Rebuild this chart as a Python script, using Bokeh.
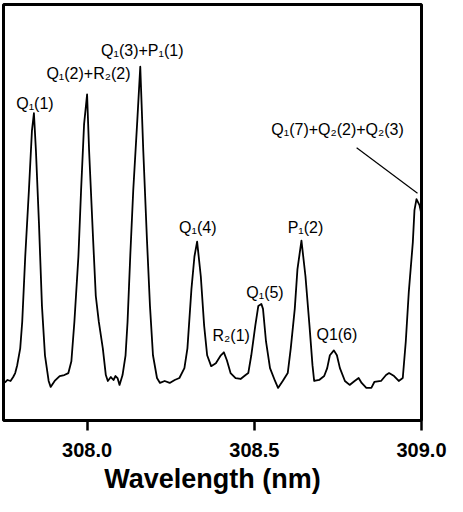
from bokeh.plotting import figure
from bokeh.models import Range1d, FixedTicker, ColumnDataSource, NumeralTickFormatter
from bokeh.core.properties import value
from bokeh.embed import file_html
from bokeh.resources import INLINE

# ---- data (wavelength in nm, intensity in arbitrary units) ----
wavelength = [
    307.750, 307.756, 307.762, 307.771, 307.779, 307.785, 307.791, 307.800, 307.806, 307.815,
    307.826, 307.835, 307.841, 307.847, 307.856, 307.865, 307.874, 307.885, 307.891, 307.903,
    307.918, 307.932, 307.944, 307.953, 307.962, 307.974, 307.982, 307.991, 308.000, 308.006,
    308.018, 308.026, 308.035, 308.047, 308.056, 308.062, 308.071, 308.079, 308.085, 308.091,
    308.097, 308.106, 308.115, 308.121, 308.129, 308.138, 308.150, 308.159, 308.168, 308.179,
    308.188, 308.197, 308.209, 308.218, 308.232, 308.247, 308.262, 308.276, 308.291, 308.300,
    308.312, 308.321, 308.329, 308.340, 308.350, 308.359, 308.371, 308.385, 308.400, 308.409,
    308.418, 308.429, 308.444, 308.459, 308.474, 308.482, 308.491, 308.503, 308.512, 308.521,
    308.526, 308.535, 308.547, 308.562, 308.571, 308.585, 308.600, 308.609, 308.621, 308.629,
    308.641, 308.653, 308.665, 308.674, 308.679, 308.694, 308.709, 308.718, 308.726, 308.738,
    308.747, 308.756, 308.771, 308.785, 308.800, 308.812, 308.821, 308.835, 308.850, 308.859,
    308.879, 308.894, 308.903, 308.918, 308.932, 308.944, 308.953, 308.962, 308.974, 308.979,
    308.985, 308.994, 308.999,
]
intensity = [
    9.03, 9.26, 9.74, 9.50, 10.45, 11.40, 13.30, 17.34, 23.75, 39.43,
    55.34, 69.60, 73.87, 64.85, 47.51, 27.55, 15.68, 9.50, 8.08, 9.50,
    10.69, 10.93, 11.40, 14.25, 23.75, 39.43, 55.34, 71.26, 78.38, 64.85,
    43.47, 29.93, 23.75, 17.34, 10.93, 9.50, 10.45, 9.74, 10.69, 10.21,
    8.55, 10.93, 15.68, 23.75, 39.43, 55.34, 71.97, 85.04, 64.85, 43.47,
    27.55, 15.68, 10.21, 9.03, 9.50, 9.03, 9.74, 10.21, 12.59, 17.34,
    31.59, 39.43, 42.99, 34.68, 22.80, 15.68, 13.06, 13.78, 15.68, 16.39,
    14.49, 11.40, 10.21, 9.98, 10.93, 11.40, 15.68, 22.80, 27.55, 28.03,
    26.84, 19.00, 12.59, 9.50, 7.84, 9.50, 11.40, 17.34, 26.84, 36.34,
    43.23, 34.68, 22.80, 13.30, 9.50, 9.74, 10.69, 12.59, 15.68, 16.86,
    15.68, 12.59, 9.50, 8.55, 9.50, 10.21, 9.03, 7.84, 7.84, 9.26,
    9.50, 10.93, 11.40, 10.69, 9.50, 10.21, 19.00, 30.88, 42.76, 50.59,
    53.21, 51.78, 49.88,
]

# peak assignments
label_text = [
    "Q₁(1)", "Q₁(2)+R₂(2)", "Q₁(3)+P₁(1)", "Q₁(4)", "R₂(1)",
    "Q₁(5)", "P₁(2)", "Q1(6)", "Q₁(7)+Q₂(2)+Q₂(3)",
]
label_x = [307.844, 308.004, 308.165, 308.331, 308.431, 308.532, 308.653, 308.747, 308.749]
label_y = [76.25, 83.37, 88.84, 46.32, 20.43, 30.88, 46.32, 20.67, 70.07]

# leader line for the last assignment
leader_x0, leader_y0 = [308.806], [65.56]
leader_x1, leader_y1 = [308.988], [54.63]

x_ticks = [308.0, 308.5, 309.0]

p = figure(
    width=447, height=496,
    x_range=Range1d(307.75, 309.0), y_range=Range1d(0, 100),
    output_backend="svg", toolbar_location=None,
    y_axis_location=None,
    min_border_left=3, min_border_right=26, min_border_top=4, min_border_bottom=74,
)
p.background_fill_color = "white"
p.border_fill_color = "white"
p.outline_line_color = "black"
p.outline_line_width = 3
p.xgrid.visible = False
p.ygrid.visible = False

p.line(wavelength, intensity, line_color="black", line_width=1.8, line_join="round")

p.segment(x0=leader_x0, y0=leader_y0, x1=leader_x1, y1=leader_y1,
          line_color="black", line_width=1.2)

src = ColumnDataSource(dict(x=label_x, y=label_y, t=label_text))
p.text(x="x", y="y", text="t", source=src, text_align="center",
       text_baseline="middle", text_font=value("Liberation Sans"),
       text_font_size="16px", text_color="black")

ax = p.xaxis[0]
ax.ticker = FixedTicker(ticks=x_ticks)
ax.formatter = NumeralTickFormatter(format="0.0")
ax.minor_tick_line_color = None
ax.axis_line_color = None
ax.major_tick_out = 10
ax.major_tick_in = 0
ax.major_tick_line_width = 2.5
ax.major_tick_line_color = "black"
ax.major_label_text_font = "Liberation Sans"
ax.major_label_text_font_style = "bold"
ax.major_label_text_font_size = "20px"
ax.major_label_text_color = "black"
ax.major_label_standoff = 12
ax.axis_label = "Wavelength (nm)"
ax.axis_label_text_font = "Liberation Sans"
ax.axis_label_text_font_style = "bold"
ax.axis_label_text_font_size = "27px"
ax.axis_label_text_color = "black"
ax.axis_label_standoff = 4

open("out.html", "w").write(file_html(p, INLINE))
